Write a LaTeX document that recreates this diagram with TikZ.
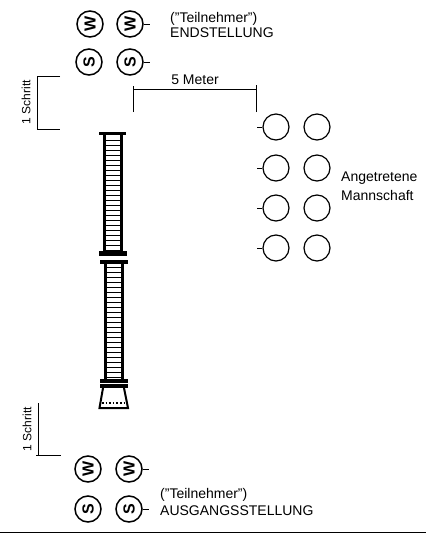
\documentclass[tikz,border=0pt]{standalone}
\usepackage{fontspec}
\setmainfont{Liberation Sans}
\usetikzlibrary{calc}
\tikzset{
  mann/.style={draw, circle, line width=1.2pt, minimum size=26pt, inner sep=0pt},
  lauf/.style={mann, line width=1.5pt, font=\fontsize{16}{16}\selectfont\bfseries},
  schrift/.style={font=\fontsize{14}{15}\selectfont, align=left, anchor=west, inner sep=0pt},
  schritt/.style={font=\fontsize{12}{12}\selectfont, rotate=90, anchor=center, inner sep=0pt},
  mass/.style={line width=0.9pt},
  balken/.style={fill=black, draw=none, inner sep=0pt}
}
\begin{document}
\begin{tikzpicture}[x=1pt, y=-1pt]
  \useasboundingbox (0,0) rectangle (426,533);

  %% Endstellung
  \node[lauf] (endw1) at (90,24) {\rotatebox{90}{W}};
  \node[lauf] (endw2) at (130,24) {\rotatebox{90}{W}};
  \node[lauf] (ends1) at (89,62) {\rotatebox{90}{S}};
  \node[lauf] (ends2) at (130,62) {\rotatebox{90}{S}};
  \draw[mass] (endw2.east) -- ++(6,0);
  \draw[mass] (ends2.east) -- ++(6,0);
  \node[schrift] (endtext) at (170,25) {(\symbol{34}Teilnehmer\symbol{34})\\ENDSTELLUNG};

  %% 1 Schritt oben
  \coordinate (oben1) at (60,76);
  \coordinate (oben2) at (60,129);
  \draw[mass] (oben1) -- (37,76) -- (37,129) -- (oben2);
  \node[schritt] (obentext) at (26,102) {1 Schritt};

  %% 5 Meter
  \coordinate (meter1) at (133,112);
  \coordinate (meter2) at (256,112);
  \draw[mass] (meter1) -- (133,86);
  \draw[mass] (133,89) -- (256,89);
  \draw[mass] (meter2) -- (256,85);
  \node[schrift, anchor=center] (metertext) at (195,80) {5 Meter};

  %% Stange
  \draw[line width=3pt] (104,134) -- (104,252);
  \draw[line width=3pt] (121,134) -- (121,252);
  \draw[line width=2.4pt] (105.5,262) -- (105.5,380);
  \draw[line width=2.4pt] (122.5,262) -- (122.5,380);
  \foreach \y in {140,145,...,250} {\draw[line width=1pt] (104,\y) -- (121,\y);}
  \foreach \y in {267,272,...,377} {\draw[line width=1pt] (105,\y) -- (122,\y);}
  \node[balken, minimum width=27pt, minimum height=3.5pt] (balken1) at (112.5,133.5) {};
  \node[balken, minimum width=28pt, minimum height=5pt] (balken2) at (113,253.5) {};
  \node[balken, minimum width=28pt, minimum height=4pt] (balken3) at (114,262) {};
  \node[balken, minimum width=28pt, minimum height=4pt] (balken4) at (114,381) {};
  \node[balken, minimum width=28pt, minimum height=4pt] (balken5) at (114,386) {};

  %% Fuss
  \draw[line width=2pt] (103,388) -- (99.5,408) -- (128,408) -- (124,388);
  \draw[line width=1.6pt, dotted] (102,403) -- (125,403);

  %% 1 Schritt unten
  \coordinate (unten1) at (38,403);
  \coordinate (unten2) at (61,455);
  \draw[mass] (unten1) -- (38,455);
  \draw[mass] (36,455) -- (unten2);
  \node[schritt] (untentext) at (27,429) {1 Schritt};

  %% Ausgangsstellung
  \node[lauf] (ausw1) at (88,469) {\rotatebox{90}{W}};
  \node[lauf] (ausw2) at (129,469) {\rotatebox{90}{W}};
  \node[lauf] (auss1) at (88,509) {\rotatebox{90}{S}};
  \node[lauf] (auss2) at (129,509) {\rotatebox{90}{S}};
  \draw[mass] (ausw2.east) -- ++(6,0);
  \draw[mass] (auss2.east) -- ++(6,0);
  \node[schrift, font=\fontsize{14}{17}\selectfont] (austext) at (160,501.5) {(\symbol{34}Teilnehmer\symbol{34})\\AUSGANGSSTELLUNG};

  %% Angetretene Mannschaft
  \foreach \n/\y in {1/127,2/168,3/208,4/248} {
    \node[mann] (links\n) at (276,\y) {};
    \node[mann] (rechts\n) at (317,\y) {};
    \draw[mass] (links\n.west) -- ++(-5,0);
  }
  \node[schrift, font=\fontsize{14}{19}\selectfont] (manntext) at (341,186) {Angetretene\\Mannschaft};

  %% Fusslinie
  \coordinate (fuss1) at (0,532);
  \coordinate (fuss2) at (426,532);
  \draw[line width=0.9pt] (fuss1) -- (fuss2);
\end{tikzpicture}
\end{document}
